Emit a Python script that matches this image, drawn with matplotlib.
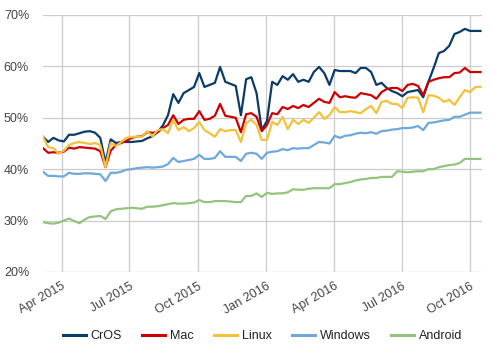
import matplotlib
matplotlib.use("Agg")
import matplotlib.pyplot as plt
import matplotlib.ticker as mticker
import numpy as np
import pandas as pd

plt.rcParams["font.family"] = ["Liberation Sans", "DejaVu Sans"]

# weekly share readings, Mar 2015 - Oct 2016
dates = pd.date_range("2015-03-07", periods=85, freq="7D")

cros = [
    46.3, 45.3, 46.1, 45.6, 45.4, 46.7, 46.7, 47.0, 47.3, 47.4,
    47.1, 46.1, 41.3, 45.8, 45.1, 45.3, 45.3, 45.3, 45.4, 45.5,
    46.0, 46.4, 47.2, 48.5, 50.5, 54.6, 52.9, 54.8, 55.4, 56.0,
    58.7, 56.0, 56.4, 56.8, 59.9, 57.0, 56.6, 56.2, 50.5, 57.5,
    57.9, 54.8, 47.6, 49.4, 57.0, 56.4, 58.1, 57.4, 58.5, 57.0,
    57.4, 57.0, 58.9, 59.9, 58.7, 56.4, 59.3, 59.1, 59.1, 59.1,
    58.7, 59.7, 59.7, 58.9, 56.4, 56.8, 55.8, 55.2, 54.8, 54.2,
    55.0, 55.2, 55.4, 54.0, 57.0, 59.7, 62.6, 63.0, 64.0, 66.3,
    66.7, 67.3, 66.9, 66.9, 66.9,
]
mac = [
    44.1, 43.2, 43.3, 43.2, 43.4, 44.2, 44.0, 44.3, 44.2, 44.1,
    44.0, 43.5, 40.4, 43.6, 44.7, 45.1, 45.5, 46.1, 46.3, 46.4,
    47.2, 47.1, 47.2, 48.0, 48.6, 50.5, 48.8, 49.6, 49.8, 49.8,
    51.3, 49.6, 49.8, 50.4, 52.7, 50.4, 50.2, 50.0, 47.2, 50.7,
    50.9, 50.2, 47.4, 48.6, 50.9, 50.7, 52.1, 51.7, 52.3, 51.9,
    52.5, 52.1, 52.9, 53.7, 53.1, 52.9, 55.0, 54.0, 54.2, 54.0,
    53.9, 54.8, 54.6, 54.4, 53.7, 55.0, 55.6, 55.8, 55.8, 55.2,
    56.4, 56.6, 56.2, 54.4, 57.0, 57.4, 57.7, 57.9, 57.9, 58.7,
    58.8, 59.7, 58.9, 58.9, 58.9,
]
linux = [
    46.3, 44.3, 44.1, 43.0, 43.6, 44.7, 45.1, 45.3, 45.1, 44.9,
    45.1, 44.7, 40.4, 45.1, 44.5, 45.3, 46.1, 46.3, 46.3, 46.3,
    47.4, 46.4, 47.6, 47.8, 47.0, 49.6, 47.6, 48.2, 47.4, 48.0,
    49.2, 47.6, 47.0, 46.3, 47.8, 47.4, 47.6, 47.6, 45.3, 49.0,
    49.6, 48.6, 45.7, 45.7, 49.2, 48.6, 50.2, 47.8, 49.6, 48.8,
    49.6, 49.0, 50.0, 51.1, 49.8, 50.5, 52.1, 51.1, 51.1, 51.3,
    51.1, 50.9, 51.7, 52.3, 50.9, 53.1, 53.3, 52.7, 52.7, 51.9,
    53.9, 54.0, 53.9, 51.1, 54.4, 54.3, 53.9, 53.1, 53.5, 52.5,
    54.0, 55.4, 55.0, 56.0, 56.0,
]
windows = [
    39.5, 38.7, 38.7, 38.6, 38.6, 39.3, 39.1, 39.1, 39.2, 39.2,
    39.1, 39.0, 37.7, 39.3, 39.3, 39.5, 39.9, 40.0, 40.2, 40.3,
    40.4, 40.3, 40.4, 40.5, 41.0, 42.2, 41.4, 41.6, 41.8, 42.0,
    42.8, 42.0, 42.0, 42.2, 43.5, 42.4, 42.4, 42.4, 41.6, 43.0,
    43.2, 43.0, 42.0, 43.2, 43.4, 43.5, 43.9, 43.7, 44.1, 44.0,
    44.1, 44.1, 44.7, 45.3, 45.2, 45.0, 46.5, 46.1, 46.5, 46.6,
    46.9, 47.1, 47.0, 47.2, 46.9, 47.4, 47.5, 47.7, 47.8, 48.0,
    48.0, 48.1, 48.4, 47.6, 49.0, 49.1, 49.3, 49.5, 49.6, 50.2,
    50.2, 50.6, 51.0, 51.0, 51.0,
]
android = [
    29.7, 29.5, 29.4, 29.6, 30.0, 30.4, 29.9, 29.5, 30.2, 30.7,
    30.8, 30.9, 30.3, 31.8, 32.2, 32.3, 32.4, 32.5, 32.4, 32.3,
    32.7, 32.7, 32.8, 33.0, 33.2, 33.4, 33.3, 33.3, 33.4, 33.5,
    34.0, 33.6, 33.6, 33.8, 33.8, 33.8, 33.7, 33.6, 33.6, 34.8,
    34.8, 35.3, 34.6, 35.4, 35.2, 35.3, 35.3, 35.5, 36.1, 36.0,
    36.0, 36.2, 36.3, 36.3, 36.3, 36.3, 37.1, 37.1, 37.3, 37.5,
    37.8, 38.0, 38.1, 38.3, 38.3, 38.5, 38.5, 38.5, 39.6, 39.5,
    39.4, 39.5, 39.6, 39.6, 40.0, 40.0, 40.4, 40.6, 40.8, 40.9,
    41.2, 42.0, 42.0, 42.0, 42.0,
]

series = [
    ("CrOS", cros, "#0b3b68"),
    ("Mac", mac, "#cc0000"),
    ("Linux", linux, "#f3c13a"),
    ("Windows", windows, "#6fa8dc"),
    ("Android", android, "#93c47d"),
]

tick_dates = pd.to_datetime(["2015-04-01", "2015-07-01", "2015-10-01",
                             "2016-01-01", "2016-04-01", "2016-07-01",
                             "2016-10-01"])
tick_labels = ["Apr 2015", "Jul 2015", "Oct 2015", "Jan 2016",
               "Apr 2016", "Jul 2016", "Oct 2016"]

fig = plt.figure(figsize=(4.93, 3.55), dpi=100)
ax = fig.add_axes([43 / 493, 1 - 272 / 355, (482 - 43) / 493, (272 - 15) / 355])

for name, vals, col in series:
    ax.plot(dates, np.array(vals) / 100, color=col, lw=1.6, label=name,
            solid_joinstyle="round")

ax.set_xlim(dates[0], dates[-1] + pd.Timedelta(days=2))
ax.set_ylim(0.20, 0.70)
ax.yaxis.set_major_locator(mticker.MultipleLocator(0.10))
ax.yaxis.set_major_formatter(mticker.PercentFormatter(1.0, decimals=0))
ax.set_xticks(tick_dates)
ax.set_xticklabels(tick_labels, rotation=30, ha="right", rotation_mode="anchor")

ax.grid(True, color="#cccccc", lw=0.9)
ax.set_axisbelow(True)
for s in ax.spines.values():
    s.set_visible(False)
ax.tick_params(length=0, labelsize=9, labelcolor="#444444")
ax.tick_params(axis="x", pad=6)
ax.tick_params(axis="y", pad=10)

leg = ax.legend(loc="center", bbox_to_anchor=(0.5, -0.25), ncol=5,
                frameon=False, fontsize=9, handlelength=1.85,
                columnspacing=1.6, handletextpad=0.4)
for t in leg.get_texts():
    t.set_color("#222222")
for h in leg.get_lines():
    h.set_linewidth(2.2)

fig.savefig("out.png", dpi=100)
